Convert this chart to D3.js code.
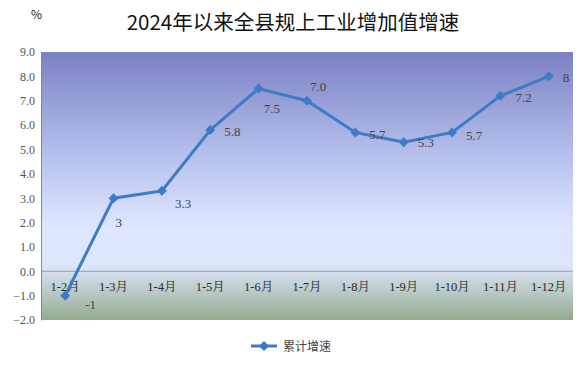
<!DOCTYPE html>
<html>
<head>
<meta charset="utf-8">
<script src="https://cdn.jsdelivr.net/npm/d3@7"></script>
<style>
  body { margin: 0; background: #fff; }
  svg text { font-family: "Liberation Serif", "Noto Serif CJK SC", "Noto Sans CJK SC", serif; }
</style>
</head>
<body>
<div class="graph"></div>
<script>
var months = ["1-2月", "1-3月", "1-4月", "1-5月", "1-6月", "1-7月", "1-8月", "1-9月", "1-10月", "1-11月", "1-12月"];
var growth = [-1, 3, 3.3, 5.8, 7.5, 7.0, 5.7, 5.3, 5.7, 7.2, 8];
var valueLabels = ["-1", "3", "3.3", "5.8", "7.5", "7.0", "5.7", "5.3", "5.7", "7.2", "8"];
var yTicks = [-2, -1, 0, 1, 2, 3, 4, 5, 6, 7, 8, 9];

// label nudges (px) relative to each point
var labelDx = [20, 2, 13, 14, 5, 3, 14, 14, 14, 15, 14];
var labelDy = [13, 29, 17, 6, 24, -10, 7, 5, 8, 6, 6];

var w = 588, h = 367;
var plotL = 41, plotR = 573, plotT = 52, plotB = 320;

var svg = d3.select('div.graph')
  .append("svg")
  .attr("width", w)
  .attr("height", h);

var defs = svg.append("defs");
var grad = defs.append("linearGradient")
  .attr("id", "bg").attr("x1", 0).attr("y1", 0).attr("x2", 0).attr("y2", 1);
grad.append("stop").attr("offset", "0%").attr("stop-color", "#7c80c4");
grad.append("stop").attr("offset", "40%").attr("stop-color", "#b8c2ee");
grad.append("stop").attr("offset", "66%").attr("stop-color", "#dfe7ff");
grad.append("stop").attr("offset", "80%").attr("stop-color", "#dde5fa");
grad.append("stop").attr("offset", "100%").attr("stop-color", "#93ab8e");

var x = d3.scaleBand().domain(months).range([plotL, plotR]);
var y = d3.scaleLinear().domain([-2, 9]).range([plotB, plotT]);

svg.append("rect")
  .attr("x", plotL).attr("y", plotT)
  .attr("width", plotR - plotL).attr("height", plotB - plotT)
  .attr("fill", "url(#bg)");

// y axis
var yAxis = svg.append("g")
  .attr("transform", "translate(" + plotL + ",0)")
  .call(d3.axisLeft(y).tickValues(yTicks).tickFormat(d3.format(".1f")).tickSize(0).tickPadding(6));
yAxis.select(".domain").attr("stroke", "#8a8a8a");
yAxis.selectAll("text").attr("fill", "#555").style("font-size", "12px");

// zero line
svg.append("line")
  .attr("x1", plotL).attr("x2", plotR)
  .attr("y1", y(0)).attr("y2", y(0))
  .attr("stroke", "#9a9aa8").attr("stroke-width", 1.2);

// category labels just below zero line
svg.append("g").selectAll("text")
  .data(months)
  .enter()
  .append("text")
  .attr("x", function(d) { return x(d) + x.bandwidth() / 2; })
  .attr("y", y(0) + 20)
  .attr("text-anchor", "middle")
  .attr("fill", "#2a2a2a")
  .style("font-size", "12.5px")
  .text(function(d) { return d; });

var line = d3.line()
  .x(function(d, i) { return x(months[i]) + x.bandwidth() / 2; })
  .y(function(d) { return y(d); });

svg.append("path")
  .datum(growth)
  .attr("d", line)
  .attr("fill", "none")
  .attr("stroke", "#3d7cc4")
  .attr("stroke-width", 3);

// square diamond marker
var diamond = d3.symbol().type(d3.symbolSquare).size(50);
svg.append("g").selectAll("path")
  .data(growth)
  .enter()
  .append("path")
  .attr("d", diamond)
  .attr("transform", function(d, i) {
    return "translate(" + (x(months[i]) + x.bandwidth() / 2) + "," + y(d) + ") rotate(45)";
  })
  .attr("fill", "#3d7cc4");

svg.append("g").selectAll("text")
  .data(growth)
  .enter()
  .append("text")
  .attr("x", function(d, i) { return x(months[i]) + x.bandwidth() / 2 + labelDx[i]; })
  .attr("y", function(d, i) { return y(d) + labelDy[i]; })
  .attr("fill", "#444")
  .style("font-size", "13px")
  .text(function(d, i) { return valueLabels[i]; });

// title and unit
svg.append("text")
  .attr("x", 293).attr("y", 29.5)
  .attr("text-anchor", "middle")
  .attr("fill", "#111")
  .style("font-family", "'Noto Sans CJK SC', sans-serif")
  .style("font-size", "20.5px")
  .text("2024年以来全县规上工业增加值增速");

svg.append("text")
  .attr("x", 31).attr("y", 19)
  .attr("fill", "#222")
  .style("font-family", "'Noto Sans CJK SC', sans-serif")
  .style("font-size", "12px")
  .text("%");

// legend
var lg = svg.append("g").attr("transform", "translate(251,346)");
lg.append("line").attr("x1", 0).attr("x2", 26).attr("y1", 0).attr("y2", 0)
  .attr("stroke", "#3d7cc4").attr("stroke-width", 3);
lg.append("path").attr("d", diamond).attr("transform", "translate(13,0) rotate(45)").attr("fill", "#3d7cc4");
lg.append("text").attr("x", 32).attr("y", 5)
  .attr("fill", "#444")
  .style("font-family", "'Noto Sans CJK SC', sans-serif")
  .style("font-size", "12px")
  .text("累计增速");
</script>
</body>
</html>
